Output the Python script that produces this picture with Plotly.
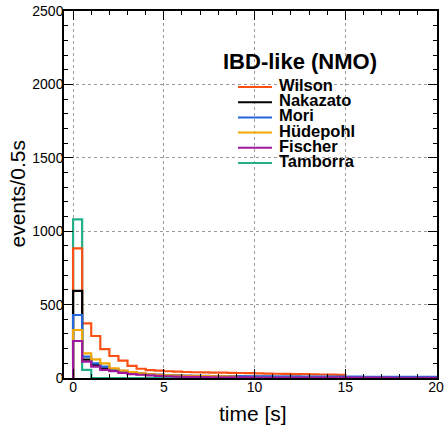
import plotly.graph_objects as go

bin_width = 0.5

series_names = ["Wilson", "Nakazato", "Mori", "Hüdepohl", "Fischer", "Tamborra"]
series_colors = ["#FA5014", "#000000", "#2466DC", "#F2A800", "#A0189E", "#22B088"]

wilson = [883, 372, 286, 197, 150, 118, 82, 63, 54, 50,
          46, 44, 41, 39, 38, 37, 36, 35, 34, 33,
          31, 30, 29, 28, 27, 26, 25, 24, 23, 21,
          0, 0, 0, 0, 0, 0, 0, 0, 0, 0]
nakazato = [593, 125, 88, 66, 52, 41, 32, 26, 22, 19,
            16, 14, 13, 12, 11, 10, 10, 9, 9, 8,
            8, 8, 7, 7, 7, 6, 6, 6, 6, 5,
            5, 5, 5, 5, 4, 4, 4, 4, 4, 4]
mori = [429, 145, 100, 77, 60, 48, 38, 32, 27, 23,
        20, 18, 16, 15, 14, 13, 13, 12, 12, 11,
        11, 11, 10, 10, 10, 10, 9, 9, 9, 9,
        9, 9, 8, 8, 8, 8, 8, 8, 7, 7]
huedepohl = [327, 168, 127, 100, 66, 50, 40, 31, 25, 21,
             18, 16, 15, 14, 13, 12, 11, 10, 0, 0,
             0, 0, 0, 0, 0, 0, 0, 0, 0, 0,
             0, 0, 0, 0, 0, 0, 0, 0, 0, 0]
fischer = [252, 111, 77, 55, 46, 35, 27, 22, 18, 15,
           12, 10, 8, 7, 6, 5, 5, 4, 4, 4,
           3, 3, 3, 3, 3, 2, 2, 2, 2, 2,
           2, 2, 2, 2, 2, 1, 1, 1, 1, 1]
tamborra = [1080, 55, 0, 0, 0, 0, 0, 0, 0, 0, 0, 0]

series_values = [wilson, nakazato, mori, huedepohl, fischer, tamborra]

x_ticks = [0, 5, 10, 15, 20]
y_ticks = [0, 500, 1000, 1500, 2000, 2500]

FONT = "Liberation Sans, Arial, Helvetica, sans-serif"

fig = go.Figure()


def step_xy(values):
    edges = [i * bin_width for i in range(len(values) + 1)]
    xs = [edges[0]] + edges
    ys = [0] + list(values) + [0]
    return xs, ys


# draw order: Tamborra at the bottom, Fischer on top
draw_order = [5, 0, 1, 2, 3, 4]
for k in draw_order:
    xs, ys = step_xy(series_values[k])
    fig.add_trace(go.Scatter(
        x=xs, y=ys, mode="lines", line_shape="hv",
        line=dict(color=series_colors[k], width=2.2),
        name=series_names[k], showlegend=False, hoverinfo="skip"))

axis_common = dict(
    showline=True, linecolor="black", linewidth=1.5, mirror="allticks",
    ticks="inside", ticklen=9, tickwidth=1, tickcolor="black",
    showgrid=True, gridcolor="#9a9a9a", griddash="dot", gridwidth=1,
    zeroline=False, automargin=False,
    tickfont=dict(family=FONT, size=14, color="black"),
)

fig.update_xaxes(range=[-0.5, 20.05], tickvals=x_ticks, ticklabelstandoff=-5,
                 minor=dict(dtick=1, ticklen=4.5, ticks="inside", tickcolor="black", showgrid=False),
                 **axis_common)
fig.update_yaxes(range=[0, 2500], tickvals=y_ticks, ticklabelstandoff=-4,
                 minor=dict(dtick=100, ticklen=4.5, ticks="inside", tickcolor="black", showgrid=False),
                 **axis_common)

# legend box (drawn as annotations + line keys in paper space)
L, R, T, B = 64, 437, 11, 378
def px(xp):
    return (xp - L) / (R - L)
def py(yp):
    return (B - yp) / (B - T)

annotations = [
    dict(text="<b>IBD-like (NMO)</b>", x=px(300), y=py(61), xref="paper", yref="paper",
         xanchor="center", yanchor="middle", showarrow=False,
         font=dict(family=FONT, size=22, color="black")),
    dict(text="events/0.5s", x=px(17), y=0.5, xref="paper", yref="paper",
         xanchor="center", yanchor="middle", textangle=-90, showarrow=False,
         font=dict(family=FONT, size=21, color="black")),
    dict(text="time [s]", x=px(253), y=py(413), xref="paper", yref="paper",
         xanchor="center", yanchor="middle", showarrow=False,
         font=dict(family=FONT, size=21, color="black")),
]
shapes = []
entry_y0, entry_dy = 87, 15.2
for i, (name, color) in enumerate(zip(series_names, series_colors)):
    yy = entry_y0 + entry_dy * i
    annotations.append(dict(text="<b>" + name + "</b>", x=px(277), y=py(yy - 2),
                            xref="paper", yref="paper", xanchor="left", yanchor="middle",
                            showarrow=False, font=dict(family=FONT, size=16.5, color="black")))
    shapes.append(dict(type="line", xref="paper", yref="paper",
                       x0=px(238), x1=px(272), y0=py(yy), y1=py(yy),
                       line=dict(color=color, width=2)))

fig.update_layout(
    width=445, height=429,
    margin=dict(l=L, r=445 - R, t=T, b=429 - B, autoexpand=False),
    paper_bgcolor="white", plot_bgcolor="white",
    annotations=annotations, shapes=shapes,
    font=dict(family=FONT, color="black"),
    showlegend=False,
)

fig.write_html("out.html")
